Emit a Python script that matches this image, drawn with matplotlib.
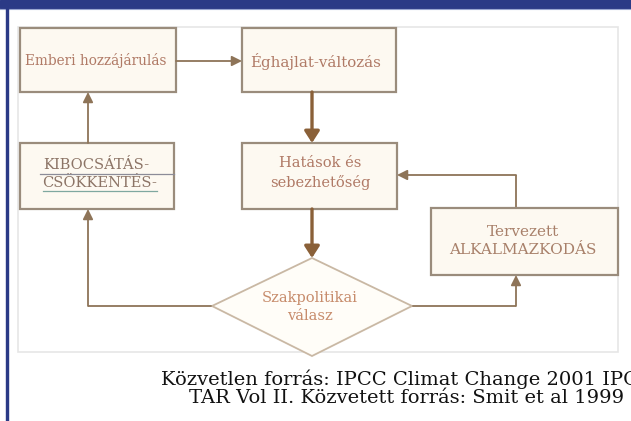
import matplotlib
matplotlib.use("Agg")
import matplotlib.pyplot as plt
from matplotlib.patches import Rectangle, Polygon, FancyArrowPatch

# ---- content ----
node_labels = {
    "emberi": "Emberi hozzájárulás",
    "eghajlat": "Éghajlat-változás",
    "hatasok": "Hatások és\nsebezhetőség",
    "kibocsatas": "KIBOCSÁTÁS-\nCSÖKKENTÉS-",
    "tervezett": "Tervezett\nALKALMAZKODÁS",
    "szakpol": "Szakpolitikai\nválasz",
}
caption_lines = ["Közvetlen forrás: IPCC Climat Change 2001 IPCC",
                 "TAR Vol II. Közvetett forrás: Smit et al 1999"]

# ---- layout (pixel coordinates, y downward) ----
W, H = 631, 421
boxes = {  # x0, y0, x1, y1
    "emberi": (20, 28, 176, 92),
    "eghajlat": (242, 28, 396, 92),
    "hatasok": (242, 143, 397, 209),
    "kibocsatas": (20, 143, 174, 209),
    "tervezett": (431, 208, 618, 275),
}
diamond = {"l": (212, 306), "t": (312, 258), "r": (412, 306), "b": (312, 356)}

fig = plt.figure(figsize=(W / 100, H / 100), dpi=100)
ax = fig.add_axes([0, 0, 1, 1])
ax.set_xlim(0, W)
ax.set_ylim(H, 0)
ax.axis("off")

blue = "#2b3a86"
border = "#9a8c7c"
fill = "#fdf9f1"
arrow_c = "#8e7458"
thick_c = "#8a6038"
serif = ["DejaVu Serif"]

# top band and left rule
ax.add_patch(Rectangle((0, 0), W, 7.5, color=blue, zorder=1))
ax.plot([0, W], [8.5, 8.5], color="#9aa6d0", lw=0.8, zorder=1)
ax.add_patch(Rectangle((6, 7.5), 2.2, H, color=blue, zorder=1))

# panel
ax.add_patch(Rectangle((18, 27), 600, 325, facecolor="white",
                       edgecolor="#e6e6e6", lw=1.2, zorder=1))

# boxes
for key, (x0, y0, x1, y1) in boxes.items():
    ax.add_patch(Rectangle((x0, y0), x1 - x0, y1 - y0, facecolor=fill,
                           edgecolor=border, lw=1.6, zorder=3))

# diamond
ax.add_patch(Polygon([diamond["l"], diamond["t"], diamond["r"], diamond["b"]],
                     closed=True, facecolor="#fffdf8", edgecolor="#c9b8a4",
                     lw=1.3, zorder=3))

def arrow(p0, p1, thick=False):
    if thick:
        a = FancyArrowPatch(p0, p1, arrowstyle="-|>,head_length=7,head_width=4.5",
                            color=thick_c, lw=2.4, zorder=4, mutation_scale=1,
                            shrinkA=0, shrinkB=0)
    else:
        a = FancyArrowPatch(p0, p1, arrowstyle="-|>,head_length=6,head_width=3",
                            color=arrow_c, lw=1.3, zorder=4, mutation_scale=1,
                            shrinkA=0, shrinkB=0)
    ax.add_patch(a)

def line(xs, ys):
    ax.plot(xs, ys, color=arrow_c, lw=1.3, zorder=2, solid_capstyle="butt")

# connections
arrow((176, 61), (242, 61))
arrow((312, 92), (312, 143), thick=True)
arrow((312, 209), (312, 258), thick=True)
arrow((88, 143), (88, 92))
line([212, 88], [306, 306])
arrow((88, 306), (88, 209))
line([412, 516], [306, 306])
arrow((516, 306), (516, 275))
line([516, 516], [208, 175])
arrow((516, 175), (397, 175))

# node labels
txt_c = "#b07a66"
def label(key, x, y, color=txt_c, size=10.5, **kw):
    ax.text(x, y, node_labels[key], ha="center", va="center", color=color,
            fontsize=size, family=serif, linespacing=1.35, zorder=5, **kw)

label("emberi", 96, 61, size=9.8)
label("eghajlat", 316, 61, size=10.8)
label("hatasok", 320, 173)
label("tervezett", 523, 241, color="#a8806a", size=11)
label("szakpol", 310, 307, color="#c78c6c")

# KIBOCSÁTÁS with underlines
kib_c = "#8c7466"
k1, k2 = node_labels["kibocsatas"].split("\n")
ax.text(96, 165, k1, ha="center", va="center", color=kib_c, fontsize=10.5,
        family=serif, zorder=5)
ax.text(100, 183, k2, ha="center", va="center", color=kib_c, fontsize=10.5,
        family=serif, zorder=5)
ax.plot([40, 174], [173.5, 173.5], color="#8c8c98", lw=0.9, zorder=5)
ax.plot([43, 157], [191, 191], color="#7fa8a0", lw=0.9, zorder=5)

# caption
for i, t in enumerate(caption_lines):
    ax.text(407, 379 + 19 * i, t, ha="center", va="center", color="#111111",
            fontsize=14, family=serif, zorder=5)

fig.savefig("out.png", dpi=100)
